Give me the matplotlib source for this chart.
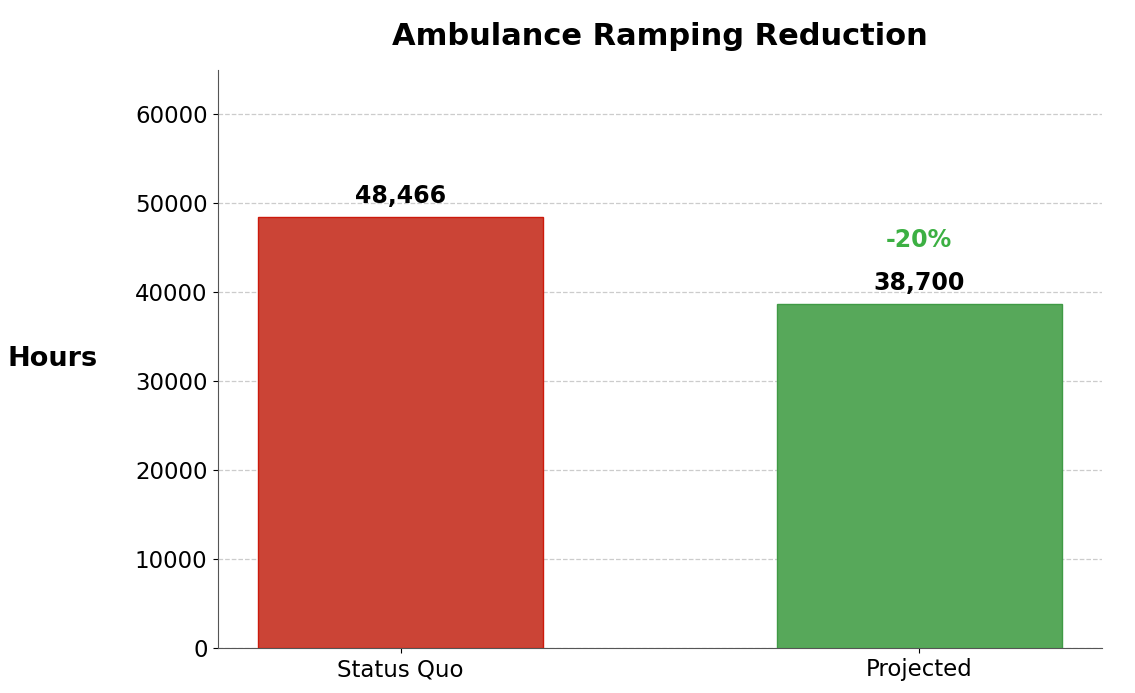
import numpy as np
import matplotlib.pyplot as plt

categories = ["Status Quo", "Projected"]
hours = [48466, 38700]
change_label = "-20%"
face_colors = ["#cb4436", "#57a85a"]
edge_colors = ["#cc1a0c", "#3f9a45"]

fig = plt.figure(figsize=(11.35, 6.93), dpi=100)
ax = fig.add_axes([0.192, 0.065, 0.779, 0.834])

x = np.arange(len(categories))
ax.bar(x, hours, 0.55, color=face_colors, edgecolor=edge_colors, linewidth=1, zorder=3)

for xi, v in zip(x, hours):
    ax.text(xi, v + 1000, f"{v:,}", ha="center", va="bottom", fontsize=17,
            fontweight="bold", zorder=4)
ax.text(x[1], hours[1] * 1.15, change_label, ha="center", va="bottom", fontsize=17,
        fontweight="bold", color="#3cb043")

ax.set_ylim(0, 65000)
ax.set_xticks(x)
ax.set_xticklabels(categories)
ax.tick_params(labelsize=16.5, pad=4)
ax.yaxis.grid(True, ls="--", color="#cccccc", lw=0.9, zorder=0)
ax.set_axisbelow(True)
ax.set_ylabel("Hours", rotation=0, fontsize=19.5, fontweight="bold", labelpad=59, va="center")
ax.set_title("Ambulance Ramping Reduction", fontsize=22, fontweight="bold", pad=18)
ax.spines[["top", "right"]].set_visible(False)
for s in ["left", "bottom"]:
    ax.spines[s].set_color("#555555")

plt.savefig("out.png", dpi=100)
